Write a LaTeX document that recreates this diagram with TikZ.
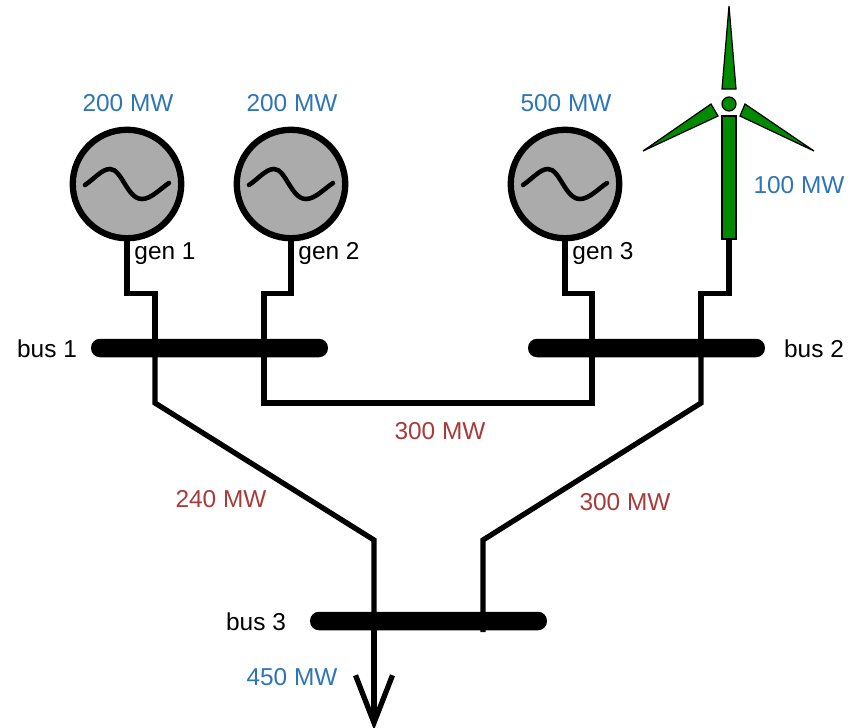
\documentclass[tikz,border=0pt]{standalone}
\usepackage{fontspec}
\setmainfont{Liberation Sans}
\usetikzlibrary{arrows.meta}
\definecolor{powerblue}{HTML}{2E75B6}
\definecolor{flowred}{HTML}{A83A3A}
\definecolor{turbgreen}{HTML}{008A00}
\definecolor{gengray}{HTML}{ABABAB}
\tikzset{gen/.style={draw,circle,line width=3.6pt,fill=gengray,minimum size=2.17cm,inner sep=0pt},busbar/.style={fill=black,rounded corners=.18cm,minimum width=4.74cm,minimum height=.37cm,inner sep=0pt},wire/.style={line width=3pt,line join=miter},blade/.style={draw,fill=turbgreen,line width=.7pt},tag/.style={font=\fontsize{13.9}{16}\selectfont,inner sep=0pt},rating/.style={tag,text=powerblue},flow/.style={tag,text=flowred},acwave/.pic={\draw[line width=2.6pt,line cap=round] (-42,1) .. controls (-33,-5) and (-25,-15) .. (-17,-15) .. controls (-5,-15) and (0,15) .. (15,15) .. controls (24,15) and (33,5) .. (42,-1);}}

\begin{document}
\begin{tikzpicture}[x=.02cm,y=-.02cm]
\useasboundingbox (0,0) rectangle (858,727);
\node[gen] (gen1) at (127,184) {};
\node[gen] (gen2) at (291,184) {};
\node[gen] (gen3) at (565,184) {};
\pic at (gen1) {acwave};
\pic at (gen2) {acwave};
\pic at (gen3) {acwave};
\node[blade,minimum width=.28cm,minimum height=2.46cm,inner sep=0pt] (tower) at (729,177.5) {};
\node[blade,circle,minimum size=.28cm,inner sep=0pt] (hub) at (729,104) {};
\draw[blade] (729,6) -- (722,89) -- (736,89) -- cycle;
\draw[blade] (643,151) -- (711,104) -- (718,116) -- cycle;
\draw[blade] (814,151) -- (745,104) -- (740,116) -- cycle;
\node[busbar] (bus1) at (209.5,348) {};
\node[busbar] (bus2) at (646.5,348) {};
\node[busbar] (bus3) at (428.5,621) {};
\coordinate (tapa) at (155,348);
\coordinate (tapb) at (264,348);
\coordinate (tapc) at (592,348);
\coordinate (tapd) at (701,348);
\coordinate (tape) at (374,621);
\coordinate (tapf) at (483,632);
\coordinate (load) at (374,730);
\draw[wire] (gen1.south)--++(0,52)-|(tapa);
\draw[wire] (gen2.south)--++(0,52)-|(tapb);
\draw[wire] (gen3.south)--++(0,52)-|(tapc);
\draw[wire] (tower.south)--++(0,54)-|(tapd);
\draw[wire] (tapb)--++(0,55)-|(tapc);
\draw[wire] (tapa)--++(0,55)--(374,540)--(tape);
\draw[wire] (tapd)--++(0,55)--(483,540)--(tapf);
\draw[wire,-{Straight Barb[length=.95cm,width=.74cm,line width=3pt]}] (tape)--(load);
\node[rating] (pa) at (128,103) {200 MW};
\node[rating] (pb) at (292,103) {200 MW};
\node[rating] (pc) at (566,103) {500 MW};
\node[rating] (pd) at (799,185) {100 MW};
\node[rating] (pe) at (292,677) {450 MW};
\node[tag] (la) at (165,254) {gen 1};
\node[tag] (lb) at (329,254) {gen 2};
\node[tag] (lc) at (603,254) {gen 3};
\node[tag] (ba) at (47,349) {bus 1};
\node[tag] (bb) at (814,349) {bus 2};
\node[tag] (bc) at (256,622) {bus 3};
\node[flow] (fa) at (440,431) {300 MW};
\node[flow] (fb) at (221,499) {240 MW};
\node[flow] (fc) at (625,502) {300 MW};
\end{tikzpicture}
\end{document}
